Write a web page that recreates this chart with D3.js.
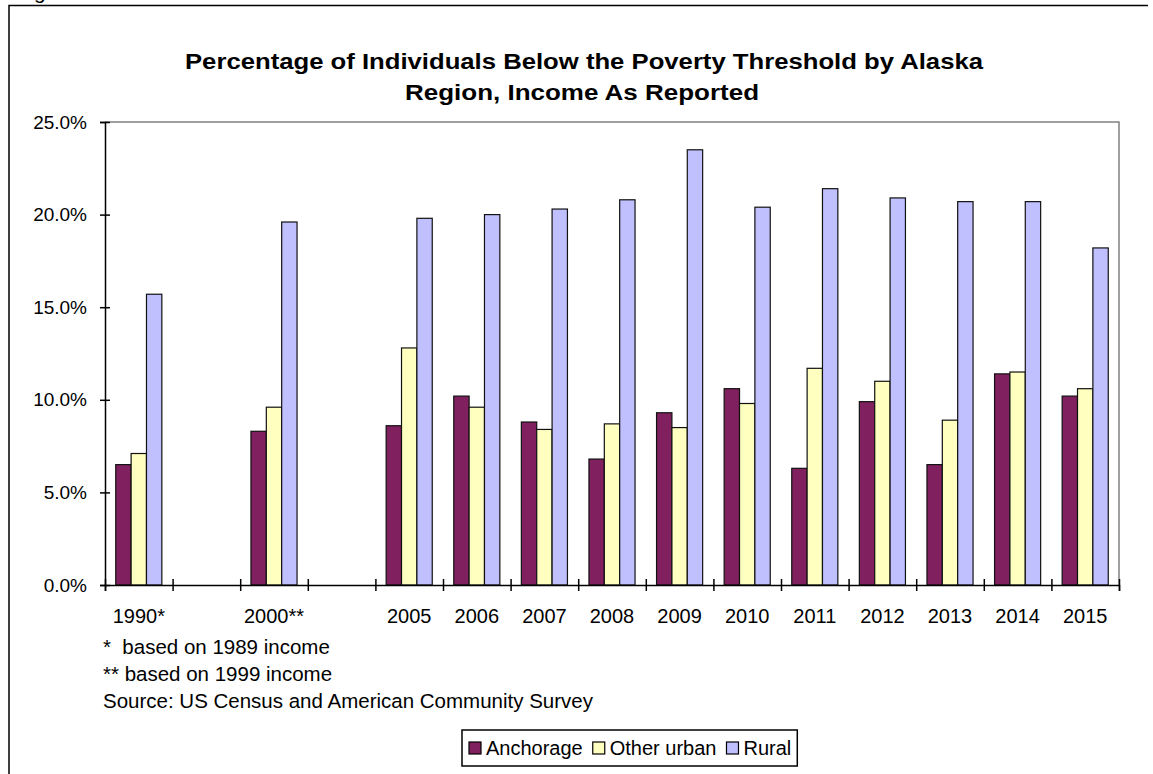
<!DOCTYPE html>
<html>
<head>
<meta charset="utf-8">
<script src="https://cdn.jsdelivr.net/npm/d3@7"></script>
<style>
  body { margin: 0; background: #fff; }
  svg { font-family: "Liberation Sans", Arial, sans-serif; }
</style>
</head>
<body>
<div id="chart"></div>
<script>
// categories (blank slots keep the gaps between 1990, 2000 and 2005)
const categories = ["1990*", "", "2000**", "", "2005", "2006", "2007", "2008", "2009", "2010", "2011", "2012", "2013", "2014", "2015"];
const seriesNames = ["Anchorage", "Other urban", "Rural"];
const anchorage  = [6.5, null, 8.3, null, 8.6, 10.2, 8.8, 6.8, 9.3, 10.6, 6.3, 9.9, 6.5, 11.4, 10.2];
const otherUrban = [7.1, null, 9.6, null, 12.8, 9.6, 8.4, 8.7, 8.5, 9.8, 11.7, 11.0, 8.9, 11.5, 10.6];
const rural      = [15.7, null, 19.6, null, 19.8, 20.0, 20.3, 20.8, 23.5, 20.4, 21.4, 20.9, 20.7, 20.7, 18.2];
const yTicks = [0, 5, 10, 15, 20, 25];
const footnotes = ["*  based on 1989 income", "** based on 1999 income", "Source: US Census and American Community Survey"];
const colors = ["#80205F", "#FFFFC0", "#C0C0FF"];

const W = 1153, H = 774;
const plot = { left: 105, right: 1119, top: 122, bottom: 585 };

const svg = d3.select("#chart").append("svg")
    .attr("width", W)
    .attr("height", H);

// outer frame (top and left edge visible), caption above is clipped
svg.append("text")
    .attr("x", 34).attr("y", -1)
    .style("font-size", "21px")
    .text("g");
svg.append("path")
    .attr("d", `M9,${H} L9,5.5 L1148,5.5`)
    .attr("fill", "none")
    .attr("stroke", "#000")
    .attr("stroke-width", 1.5);

// title
const title = svg.append("text")
    .attr("text-anchor", "middle")
    .style("font-size", "22px")
    .style("font-weight", "bold");
title.append("tspan").attr("x", 584).attr("y", 69)
    .attr("textLength", 798).attr("lengthAdjust", "spacingAndGlyphs")
    .text("Percentage of Individuals Below the Poverty Threshold by Alaska");
title.append("tspan").attr("x", 582).attr("y", 100)
    .attr("textLength", 354).attr("lengthAdjust", "spacingAndGlyphs")
    .text("Region, Income As Reported");

const x0 = d3.scaleBand()
    .domain(d3.range(categories.length))
    .range([plot.left, plot.right])
    .paddingInner(0)
    .paddingOuter(0);

const x1 = d3.scaleBand()
    .domain(d3.range(seriesNames.length))
    .range([0, x0.bandwidth()])
    .paddingInner(0)
    .paddingOuter(0.7);

const y = d3.scaleLinear()
    .domain([0, 25])
    .range([plot.bottom, plot.top]);

// plot border (grey top/right)
svg.append("path")
    .attr("d", `M${plot.left},${plot.top} L${plot.right},${plot.top} L${plot.right},${plot.bottom}`)
    .attr("fill", "none")
    .attr("stroke", "#808080")
    .attr("stroke-width", 1.5);

// bars
const allSeries = [anchorage, otherUrban, rural];
allSeries.forEach((vals, s) => {
    svg.append("g")
        .selectAll("rect")
        .data(vals.map((v, i) => ({ i: i, v: v })).filter(d => d.v !== null))
        .enter().append("rect")
        .attr("x", d => x0(d.i) + x1(s))
        .attr("y", d => y(d.v))
        .attr("width", x1.bandwidth())
        .attr("height", d => y(0) - y(d.v))
        .attr("fill", colors[s])
        .attr("stroke", "#111")
        .attr("stroke-width", 1.2);
});

// y axis
const yAxis = svg.append("g")
    .attr("transform", `translate(${plot.left},0)`)
    .call(d3.axisLeft(y).tickValues(yTicks).tickFormat(d => d.toFixed(1) + "%").tickSize(5).tickPadding(13));
yAxis.select(".domain").attr("stroke", "#000").attr("stroke-width", 1.5);
yAxis.selectAll(".tick line").attr("x1", -5).attr("x2", 5).attr("stroke-width", 1.5);
yAxis.selectAll(".tick text").style("font-size", "19px").style("font-family", "Liberation Sans, Arial, sans-serif").attr("fill", "#000");

// x axis: ticks on slot edges
const xEdge = d3.scaleLinear().domain([0, categories.length]).range([plot.left, plot.right]);
const xAxis = svg.append("g")
    .attr("transform", `translate(0,${plot.bottom})`)
    .call(d3.axisBottom(xEdge).tickValues(d3.range(categories.length + 1)).tickFormat("").tickSize(6));
xAxis.select(".domain").attr("stroke", "#000").attr("stroke-width", 1.5);
xAxis.selectAll(".tick line").attr("y1", -6).attr("y2", 6).attr("stroke-width", 1.5);

// x labels
const xLab = svg.append("g")
    .attr("transform", `translate(0,${plot.bottom})`)
    .call(d3.axisBottom(x0).tickFormat(i => categories[i]).tickSize(0).tickPadding(24));
xLab.select(".domain").remove();
xLab.selectAll(".tick text").style("font-size", "20px").style("font-family", "Liberation Sans, Arial, sans-serif").attr("fill", "#000");

// footnotes
svg.append("g")
    .selectAll("text")
    .data(footnotes)
    .enter().append("text")
    .attr("x", 103)
    .attr("y", (d, i) => 654 + i * 27)
    .style("font-size", "20.5px")
    .attr("xml:space", "preserve")
    .style("white-space", "pre")
    .text(d => d);

// legend
const legend = svg.append("g").attr("transform", "translate(462,730)");
const legendBox = legend.append("rect")
    .attr("height", 36)
    .attr("fill", "#fff").attr("stroke", "#000").attr("stroke-width", 1.5);
let lx = 7;
seriesNames.forEach((name, s) => {
    const g = legend.append("g").attr("transform", `translate(${lx},0)`);
    g.append("rect")
        .attr("x", 0).attr("y", 12).attr("width", 12).attr("height", 12)
        .attr("fill", colors[s]).attr("stroke", "#000").attr("stroke-width", 1.2);
    const t = g.append("text")
        .attr("x", 17).attr("y", 25)
        .style("font-size", "20px")
        .text(name);
    lx += 17 + t.node().getComputedTextLength() + 10;
});
legendBox.attr("width", lx - 4);
</script>
</body>
</html>
